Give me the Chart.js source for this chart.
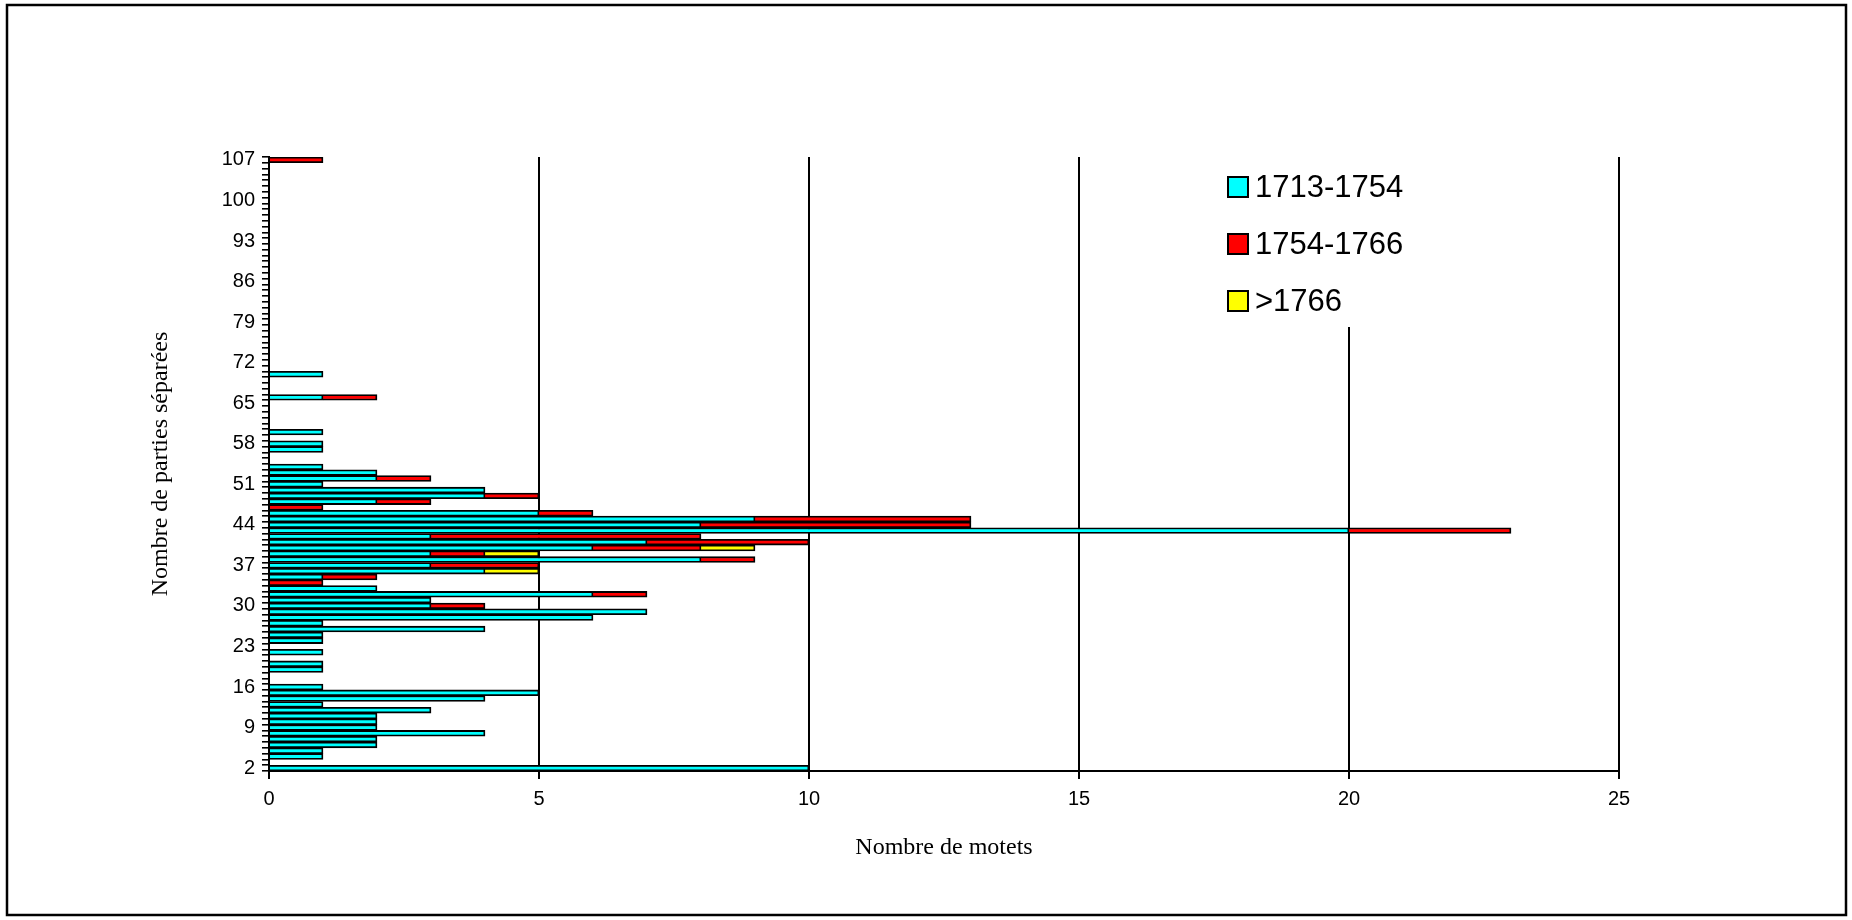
<!DOCTYPE html>
<html>
<head>
<meta charset="utf-8">
<script src="https://cdn.jsdelivr.net/npm/chart.js@4.4.1/dist/chart.umd.min.js"></script>
<style>
html, body { margin: 0; padding: 0; background: #fff; }
canvas { display: block; }
</style>
</head>
<body>
<canvas id="chart" width="1852" height="920"></canvas>
<script>
// nombre de parties separees (2 .. 107)
var parties = [
	2, 3, 4, 5, 6, 7, 8, 9, 10, 11,
	12, 13, 14, 15, 16, 17, 18, 19, 20, 21,
	22, 23, 24, 25, 26, 27, 28, 29, 30, 31,
	32, 33, 34, 35, 36, 37, 38, 39, 40, 41,
	42, 43, 44, 45, 46, 47, 48, 49, 50, 51,
	52, 53, 54, 55, 56, 57, 58, 59, 60, 61,
	62, 63, 64, 65, 66, 67, 68, 69, 70, 71,
	72, 73, 74, 75, 76, 77, 78, 79, 80, 81,
	82, 83, 84, 85, 86, 87, 88, 89, 90, 91,
	92, 93, 94, 95, 96, 97, 98, 99, 100, 101,
	102, 103, 104, 105, 106, 107
];
var shownLabels = [2, 9, 16, 23, 30, 37, 44, 51, 58, 65, 72, 79, 86, 93, 100, 107];

var seriesNames = ['1713-1754', '1754-1766', '>1766'];

var motets1713 = [
	10, 0, 1, 1, 2, 2, 4, 2, 2, 2,
	3, 1, 4, 5, 1, 0, 0, 1, 1, 0,
	1, 0, 1, 1, 4, 1, 6, 7, 3, 3,
	6, 2, 0, 1, 4, 3, 8, 3, 6, 7,
	3, 20, 8, 9, 5, 0, 2, 4, 4, 1,
	2, 2, 1, 0, 0, 1, 1, 0, 1, 0,
	0, 0, 0, 0, 1, 0, 0, 0, 1, 0,
	0, 0, 0, 0, 0, 0, 0, 0, 0, 0,
	0, 0, 0, 0, 0, 0, 0, 0, 0, 0,
	0, 0, 0, 0, 0, 0, 0, 0, 0, 0,
	0, 0, 0, 0, 0, 0
];
var motets1754 = [
	0, 0, 0, 0, 0, 0, 0, 0, 0, 0,
	0, 0, 0, 0, 0, 0, 0, 0, 0, 0,
	0, 0, 0, 0, 0, 0, 0, 0, 1, 0,
	1, 0, 1, 1, 0, 2, 1, 1, 2, 3,
	5, 3, 5, 4, 1, 1, 1, 1, 0, 0,
	1, 0, 0, 0, 0, 0, 0, 0, 0, 0,
	0, 0, 0, 0, 1, 0, 0, 0, 0, 0,
	0, 0, 0, 0, 0, 0, 0, 0, 0, 0,
	0, 0, 0, 0, 0, 0, 0, 0, 0, 0,
	0, 0, 0, 0, 0, 0, 0, 0, 0, 0,
	0, 0, 0, 0, 0, 1
];
var motets1766 = [
	0, 0, 0, 0, 0, 0, 0, 0, 0, 0,
	0, 0, 0, 0, 0, 0, 0, 0, 0, 0,
	0, 0, 0, 0, 0, 0, 0, 0, 0, 0,
	0, 0, 0, 0, 1, 0, 0, 1, 1, 0,
	0, 0, 0, 0, 0, 0, 0, 0, 0, 0,
	0, 0, 0, 0, 0, 0, 0, 0, 0, 0,
	0, 0, 0, 0, 0, 0, 0, 0, 0, 0,
	0, 0, 0, 0, 0, 0, 0, 0, 0, 0,
	0, 0, 0, 0, 0, 0, 0, 0, 0, 0,
	0, 0, 0, 0, 0, 0, 0, 0, 0, 0,
	0, 0, 0, 0, 0, 0
];
var xTicks = [0, 5, 10, 15, 20, 25];

var colors = ['#00FFFF', '#FF0000', '#FFFF00'];

function noZero(arr) {
	return arr.map(function (v) { return v === 0 ? null : v; });
}

// cadre + legende dessines par dessus
var framePlugin = {
	id: 'frame',
	afterDraw: function (chart) {
		var ctx = chart.ctx;
		ctx.save();
		ctx.strokeStyle = '#000';
		ctx.lineWidth = 2.5;
		ctx.strokeRect(7, 5, 1839, 910);

		ctx.fillStyle = '#fff';
		ctx.fillRect(1212, 150, 215, 177);
		ctx.font = '31px "Liberation Sans", Arial, sans-serif';
		ctx.textBaseline = 'middle';
		var rows = [187, 244, 301];
		chart.data.datasets.forEach(function (ds, i) {
			ctx.fillStyle = ds.backgroundColor;
			ctx.fillRect(1228, rows[i] - 10, 20, 20);
			ctx.lineWidth = 2;
			ctx.strokeStyle = '#000';
			ctx.strokeRect(1228, rows[i] - 10, 20, 20);
			ctx.fillStyle = '#000';
			ctx.fillText(ds.label, 1255, rows[i] + 1);
		});
		ctx.restore();
	}
};

Chart.defaults.color = '#000';
Chart.defaults.font.family = '"Liberation Sans", Arial, sans-serif';

var chart = new Chart(document.getElementById('chart'), {
	type: 'bar',
	data: {
		labels: parties.map(String),
		datasets: [
			{ label: seriesNames[0], data: noZero(motets1713), backgroundColor: colors[0] },
			{ label: seriesNames[1], data: noZero(motets1754), backgroundColor: colors[1] },
			{ label: seriesNames[2], data: noZero(motets1766), backgroundColor: colors[2] }
		]
	},
	options: {
		indexAxis: 'y',
		responsive: false,
		animation: false,
		events: [],
		layout: { padding: { left: 0, top: 157, right: 233, bottom: 0 } },
		datasets: {
			bar: {
				borderColor: '#000',
				borderWidth: 1.8,
				barPercentage: 1,
				categoryPercentage: 1
			}
		},
		plugins: {
			legend: { display: false },
			tooltip: { enabled: false }
		},
		scales: {
			x: {
				stacked: true,
				min: 0,
				max: 25,
				afterBuildTicks: function (scale) {
					scale.ticks = xTicks.map(function (v) { return { value: v }; });
				},
				afterFit: function (scale) { scale.height = 149; },
				grid: { color: '#000', lineWidth: 2, tickLength: 8 },
				border: { display: true, color: '#000', width: 2 },
				ticks: { font: { size: 20 }, padding: 8, maxRotation: 0 },
				title: {
					display: true,
					text: 'Nombre de motets',
					font: { family: '"Liberation Serif", "Times New Roman", serif', size: 24 },
					padding: { top: 0, bottom: 58 }
				}
			},
			y: {
				stacked: true,
				reverse: true,
				afterFit: function (scale) { scale.width = 269; },
				grid: { drawOnChartArea: false, color: '#000', lineWidth: 1.6, tickLength: 7 },
				border: { display: true, color: '#000', width: 2 },
				ticks: {
					autoSkip: false,
					font: { size: 20 },
					padding: 7,
					callback: function (value) {
						var lab = Number(this.getLabelForValue(value));
						return shownLabels.indexOf(lab) >= 0 ? String(lab) : '';
					}
				},
				title: {
					display: true,
					text: 'Nombre de parties séparées',
					font: { family: '"Liberation Serif", "Times New Roman", serif', size: 24 },
					padding: { top: 146, bottom: 0 }
				}
			}
		}
	},
	plugins: [framePlugin]
});
</script>
</body>
</html>
